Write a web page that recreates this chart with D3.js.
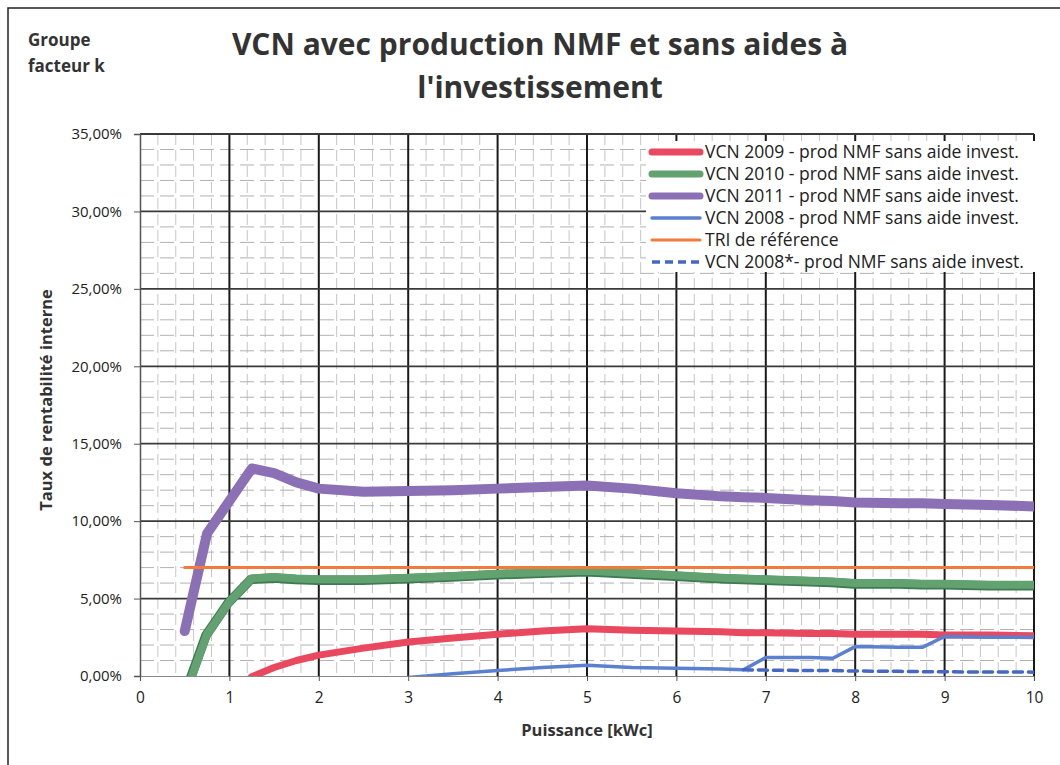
<!DOCTYPE html>
<html><head><meta charset="utf-8">
<script src="https://cdn.jsdelivr.net/npm/d3@7"></script>
<style>body{margin:0;background:#fff}svg{display:block}</style>
</head><body>
<svg id="c" width="1060" height="765"></svg>
<script>
const puissance = [0.5,0.75,1,1.25,1.5,1.75,2,2.5,3,3.5,4,4.5,5,5.5,6,6.5,6.75,7,7.5,7.75,8,8.5,8.75,9,9.5,10];
const vcn2009 = [null,null,-1.5,-0.05,0.55,1.0,1.35,1.8,2.2,2.45,2.7,2.9,3.05,2.95,2.9,2.85,2.8,2.8,2.75,2.75,2.7,2.7,2.7,2.65,2.65,2.6];
const vcn2010 = [-1.3,2.7,4.8,6.3,6.4,6.3,6.25,6.25,6.35,6.45,6.6,6.7,6.8,6.65,6.5,6.35,6.3,6.25,6.15,6.1,6.0,6.0,5.95,5.95,5.9,5.9];
const vcn2011 = [2.9,9.2,11.3,13.4,13.1,12.5,12.1,11.9,11.95,12.0,12.1,12.2,12.3,12.1,11.8,11.6,11.55,11.5,11.35,11.3,11.2,11.15,11.15,11.1,11.05,10.95];
const vcn2008 = [null,null,null,null,null,null,null,null,-0.1,0.15,0.35,0.55,0.7,0.55,0.5,0.45,0.4,1.2,1.2,1.15,1.9,1.85,1.85,2.55,2.5,2.5];
const triRef = [7,7,7,7,7,7,7,7,7,7,7,7,7,7,7,7,7,7,7,7,7,7,7,7,7,7];
const vcn2008b = [null,null,null,null,null,null,null,null,null,null,null,null,null,null,null,null,0.4,0.38,0.35,0.35,0.32,0.3,0.28,0.27,0.26,0.25];
const seriesNames = ["VCN 2009 - prod NMF sans aide invest.","VCN 2010 - prod NMF sans aide invest.","VCN 2011 - prod NMF sans aide invest.","VCN 2008 - prod NMF sans aide invest.","TRI de référence","VCN 2008*- prod NMF sans aide invest."];
const xTicks = [0,1,2,3,4,5,6,7,8,9,10];
const yTicks = [0,5,10,15,20,25,30,35];

const styles = [
  {color:"#e9485e", w:7, dash:null},
  {color:"#62a271", w:8, dash:null, edge:"#3f7a52"},
  {color:"#8b70b5", w:10, dash:null},
  {color:"#5b80d0", w:3.5, dash:null},
  {color:"#f47a3c", w:3, dash:null},
  {color:"#4468c4", w:3.5, dash:"9,6"}
];
const data = [vcn2009,vcn2010,vcn2011,vcn2008,triRef,vcn2008b];

const svg = d3.select("#c");
const W=1060,H=765;
const m={left:140,right:1034,top:134,bottom:676};
const x=d3.scaleLinear().domain([0,10]).range([m.left,m.right]);
const y=d3.scaleLinear().domain([0,35]).range([m.bottom,m.top]);
const font="'Open Sans', Lato, sans-serif";

svg.append("rect").attr("x",0).attr("y",0).attr("width",W).attr("height",H).attr("fill","#fff");
svg.append("rect").attr("x",8).attr("y",8).attr("width",1200).attr("height",900).attr("fill","none").attr("stroke","#222").attr("stroke-width",1.5);

// minor grid
const g=svg.append("g");
const minorX=d3.range(0,10.001,0.2).filter(v=>Math.abs(v-Math.round(v))>1e-6);
const minorY=d3.range(0,35.001,1).filter(v=>v%5!==0);
g.selectAll(".mx").data(minorX).enter().append("line")
  .attr("x1",d=>x(d)).attr("x2",d=>x(d)).attr("y1",m.top).attr("y2",m.bottom)
  .attr("stroke","#c6c6c6").attr("stroke-width",1).attr("stroke-dasharray","11,5");
g.selectAll(".my").data(minorY).enter().append("line")
  .attr("x1",m.left).attr("x2",m.right).attr("y1",d=>y(d)).attr("y2",d=>y(d))
  .attr("stroke","#b2b2b2").attr("stroke-width",1).attr("stroke-dasharray","14,6");
// major grid
g.selectAll(".Mx").data(xTicks.slice(1)).enter().append("line")
  .attr("x1",d=>x(d)).attr("x2",d=>x(d)).attr("y1",m.top).attr("y2",m.bottom)
  .attr("stroke","#1a1a1a").attr("stroke-width",2);
g.selectAll(".My").data(yTicks.slice(1)).enter().append("line")
  .attr("x1",m.left).attr("x2",m.right).attr("y1",d=>y(d)).attr("y2",d=>y(d))
  .attr("stroke","#3a3a3a").attr("stroke-width",1.8);

// axes
const yAxis=d3.axisLeft(y).tickValues(yTicks).tickSize(6).tickFormat(d=>d.toFixed(2).replace(".",",")+"%");
const ya=svg.append("g").attr("transform",`translate(${m.left},0)`).call(yAxis);
ya.select(".domain").attr("stroke","#555").attr("stroke-width",1.5);
ya.selectAll(".tick line").attr("stroke","#555");
ya.selectAll("text").attr("font-family",font).attr("font-size",15).attr("fill","#222").attr("x",-18);
const xAxis=d3.axisBottom(x).tickValues(xTicks).tickSize(5).tickFormat(d3.format("d"));
const xa=svg.append("g").attr("transform",`translate(0,${m.bottom})`).call(xAxis);
xa.select(".domain").attr("stroke","#888").attr("stroke-width",1.2);
xa.selectAll(".tick line").attr("stroke","#555");
xa.selectAll("text").attr("font-family",font).attr("font-size",15.5).attr("fill","#222").attr("dy","1.25em");

// clip
svg.append("clipPath").attr("id","clip").append("rect")
  .attr("x",m.left).attr("y",m.top).attr("width",m.right-m.left).attr("height",m.bottom-m.top);
const line=d3.line().defined(d=>d[1]!==null).x(d=>x(d[0])).y(d=>y(d[1]));
const lg=svg.append("g").attr("clip-path","url(#clip)");
data.forEach((arr,i)=>{
  const pts=puissance.map((p,j)=>[p,arr[j]]);
  const s=styles[i];
  if(s.edge){
    lg.append("path").attr("d",line(pts)).attr("fill","none").attr("stroke",s.edge)
      .attr("stroke-width",s.w+1.5).attr("stroke-linejoin","round").attr("stroke-linecap","round")
      .attr("transform","translate(-1,1)");
  }
  lg.append("path").attr("d",line(pts)).attr("fill","none").attr("stroke",s.color)
    .attr("stroke-width",s.w).attr("stroke-linejoin","round").attr("stroke-linecap","round")
    .attr("stroke-dasharray",s.dash);
});

// legend
const leg=svg.append("g");
leg.append("rect").attr("x",646).attr("y",141).attr("width",390).attr("height",131).attr("fill","#fff");
seriesNames.forEach((n,i)=>{
  const yy=152+i*22;
  const s=styles[i];
  leg.append("line").attr("x1",652).attr("x2",700).attr("y1",yy).attr("y2",yy)
    .attr("stroke",s.color).attr("stroke-width",Math.min(s.w,7)).attr("stroke-linecap",s.dash?"butt":"round")
    .attr("stroke-dasharray",s.dash?"8,5":null);
  leg.append("text").attr("x",705).attr("y",yy).attr("dy","0.35em").attr("font-family",font)
    .attr("font-size",17.5).attr("fill","#222").text(n);
});

// titles
svg.append("text").attr("x",540).attr("y",55).attr("text-anchor","middle").attr("font-family",font)
  .attr("font-weight","bold").attr("font-size",30).attr("fill","#333").text("VCN avec production NMF et sans aides à");
svg.append("text").attr("x",540).attr("y",98).attr("text-anchor","middle").attr("font-family",font)
  .attr("font-weight","bold").attr("font-size",30).attr("fill","#333").text("l'investissement");
svg.append("text").attr("x",28).attr("y",46).attr("font-family",font).attr("font-weight","bold")
  .attr("font-size",17).attr("fill","#333").text("Groupe");
svg.append("text").attr("x",28).attr("y",72).attr("font-family",font).attr("font-weight","bold")
  .attr("font-size",17).attr("fill","#333").text("facteur k");
svg.append("text").attr("transform",`translate(52,400) rotate(-90)`)
  .attr("text-anchor","middle").attr("font-family",font).attr("font-weight","bold")
  .attr("font-size",16.5).attr("fill","#333").text("Taux de rentabilité interne");
svg.append("text").attr("x",(m.left+m.right)/2).attr("y",736).attr("text-anchor","middle")
  .attr("font-family",font).attr("font-weight","bold").attr("font-size",16.5).attr("fill","#333").text("Puissance [kWc]");
</script>
</body></html>
